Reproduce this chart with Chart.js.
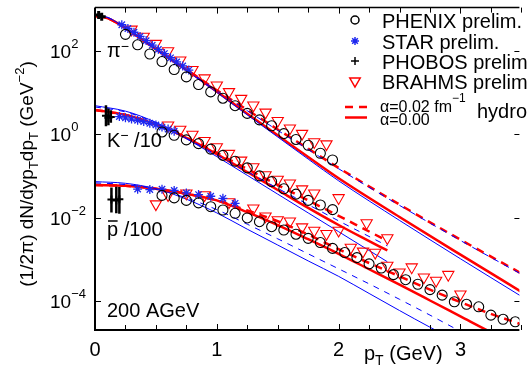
<!DOCTYPE html>
<html>
<head>
<meta charset="utf-8">
<script src="https://cdn.jsdelivr.net/npm/chart.js@4.4.1/dist/chart.umd.min.js"></script>
<style>
  html, body { margin: 0; padding: 0; background: #fff; }
  #wrap { width: 527px; height: 380px; }
</style>
</head>
<body>
<div id="wrap"><canvas id="myChart" width="527" height="380"></canvas></div>
<script>
// ---- pi- ----
const piPhenixPt = [0.25,0.35,0.45,0.55,0.65,0.75,0.85,0.95,1.05,1.15,1.25,1.35,1.45,1.55,1.65,1.75,1.85,1.95];
const piPhenixY  = [251,141,85,56,36,24,15.8,10.5,7.4,4.9,3.2,2.24,1.62,1.05,0.76,0.55,0.355,0.245];
const piStarPt   = [0.22,0.27,0.32,0.37,0.42,0.47,0.52,0.57,0.62,0.67,0.72,0.77];
const piStarY    = [427,347,282,224,178,138,110,87,69,55,44,35];
const piBrahmsPt = [0.3,0.4,0.5,0.6,0.7,0.8,0.9,1.0,1.1,1.2,1.3,1.4,1.5,1.6,1.7,1.8,1.9];
const piBrahmsY  = [331,224,151,100,60.3,35.5,22.4,15.1,10.5,7.24,5.01,3.39,2.14,1.41,1.05,0.661,0.589];
const piPhobosPt = [0.03,0.055];
const piPhobosY  = [730,660];

const piLinePt    = [0,0.1,0.2,0.4,0.6,0.8,1.0,1.25,1.5,1.75,2.0,2.5,3.0,3.5];
const piRedSolid  = [692,617,437,178,69,28.2,10.7,3.16,0.955,0.288,0.089,0.0105,0.00132,0.00017];
const piRedDash   = [692,617,437,178,70.8,28.8,11.5,3.89,1.32,0.457,0.158,0.0209,0.00302,0.000468];
const piBlueSolid = [724,646,447,178,69.2,26.9,10.2,2.95,0.871,0.257,0.0776,0.00871,0.00105,0.000132];
const piBlueDash  = [724,646,447,178,70.8,28.2,11.2,3.72,1.26,0.437,0.151,0.02,0.00288,0.000447];

// ---- K- / 10 ----
const kPhenixPt = [0.55,0.65,0.75,0.85,0.95,1.05,1.15,1.25,1.35,1.45,1.55,1.65,1.75,1.85,1.95];
const kPhenixY  = [1.15,0.955,0.741,0.603,0.447,0.316,0.229,0.158,0.102,0.0741,0.0501,0.0372,0.0263,0.0204,0.0158];
const kStarPt   = [0.2,0.25,0.3,0.35,0.4,0.45,0.5,0.55,0.6,0.65];
const kStarY    = [2.69,2.51,2.34,2.19,2.04,1.86,1.70,1.51,1.35,1.20];
const kBrahmsPt = [0.6,0.7,0.8,0.9,1.0,1.1,1.2,1.3,1.4,1.5,1.6,1.7,1.8,2.0,2.23,2.4];
const kBrahmsY  = [1.66,1.32,1.0,0.708,0.501,0.347,0.24,0.166,0.107,0.0832,0.0676,0.049,0.0389,0.0302,0.00759,0.00331];
const kPhobosPt = [0.09,0.11,0.13];
const kPhobosY  = [2.82,2.51,2.63];
const kPhobosLo = [1.58,1.66,1.91];
const kPhobosHi = [5.01,4.17,3.80];

const kLinePt    = [0,0.25,0.5,0.75,1.0,1.25,1.5,1.75,2.0,2.2,2.4];
const kRedSolid  = [3.89,2.95,1.74,0.832,0.339,0.126,0.0468,0.0174,0.00676,0.00331,0.00166];
const kRedDash   = [3.89,2.95,1.74,0.851,0.363,0.148,0.0617,0.0263,0.0112,0.00562,0.00282];
const kBlueSolid = [4.9,3.63,1.95,0.794,0.295,0.105,0.0372,0.0132,0.00468,0.00204,0.000891];
const kBlueDash  = [4.57,3.47,1.91,0.813,0.324,0.129,0.0513,0.0209,0.00851,0.00427,0.00214];

// ---- pbar / 100 ----
const pPhenixPt = [0.55,0.65,0.75,0.85,0.95,1.05,1.15,1.25,1.35,1.45,1.55,1.65,1.75,1.85,1.95,2.05,2.15,2.25,2.35,2.45,2.55,2.65,2.75,2.85,2.95,3.05,3.15,3.25,3.35,3.45];
const pPhenixY  = [0.0347,0.0302,0.0263,0.0229,0.0186,0.0155,0.0129,0.01,0.00813,0.00617,0.00513,0.00407,0.00324,0.00257,0.00186,0.00148,0.00112,0.000794,0.000631,0.000437,0.000331,0.000257,0.000191,0.000141,0.0000977,0.0000851,0.0000741,0.0000468,0.0000372,0.0000324];
const pStarPt   = [0.35,0.45,0.55,0.65,0.75,0.85,0.95,1.05,1.15];
const pStarY    = [0.049,0.0479,0.049,0.0457,0.0398,0.0363,0.0331,0.0295,0.0224];
const pBrahmsPt = [0.5,0.6,0.75,0.9,1.1,1.3,1.4,1.5,1.6,1.7,1.8,1.9,2.0,2.1,2.2,2.3,2.4,2.5,2.6,2.7,2.8,2.9,3.0];
const pBrahmsY  = [0.0214,0.0355,0.0389,0.0355,0.024,0.017,0.011,0.00891,0.00832,0.00603,0.00501,0.00417,0.00501,0.00195,0.00158,0.00148,0.000724,0.000501,0.000661,0.00038,0.000316,0.000437,0.000148];
const pPhobosPt = [0.135,0.175,0.2];
const pPhobosY  = [0.0275,0.0263,0.0282];
const pPhobosLo = [0.0135,0.0129,0.0126];
const pPhobosHi = [0.0537,0.0562,0.055];

const pLinePt    = [0,0.25,0.5,0.75,1.0,1.25,1.5,1.75,2.0,2.25,2.5,2.75,3.0,3.25,3.5];
const pRedSolid  = [0.0617,0.0589,0.0501,0.038,0.0263,0.0138,0.00676,0.00309,0.00138,0.000589,0.000251,0.000105,0.0000437,0.0000182,0.0000079];
const pRedDash   = [0.0617,0.0589,0.0501,0.038,0.0263,0.0151,0.00832,0.00398,0.00178,0.000832,0.000398,0.000191,0.0000955,0.0000501,0.0000282];
const pBlueSolid = [0.0741,0.0676,0.0501,0.0282,0.0132,0.00537,0.00224,0.000933,0.000398,0.000155,0.0000603,0.000024,0.00001];
const pBlueDash  = [0.0692,0.0631,0.049,0.0302,0.0158,0.00708,0.00316,0.00138,0.000603,0.000263,0.000112,0.0000468,0.0000191,0.0000079];

// axes
const xTickValues = [0,1,2,3];
const xTickLabels = ['0','1','2','3'];
const yTickValues = [1e2,1,1e-2,1e-4];
const yTickExps   = ['2','0','\u22122','\u22124'];

const legendNames = ['PHENIX prelim.','STAR prelim.','PHOBOS prelim.','BRAHMS prelim.'];

const RED = 'rgb(255,0,0)';
const BLUE = 'rgb(0,0,255)';
const STARBLUE = 'rgb(30,40,240)';
const FONT = '"Liberation Sans", Arial, Helvetica, sans-serif';

function pts(xs, ys) { return ys.map((y, i) => ({x: xs[i], y: y})); }

function curve(xs, ys, color, width, dash, order) {
  return { data: pts(xs, ys), showLine: true, pointRadius: 0, borderColor: color,
    borderWidth: width, borderDash: dash, cubicInterpolationMode: 'monotone', order: order };
}
function marks(xs, ys, style, radius, color, bw, rot) {
  return { data: pts(xs, ys), showLine: false, pointStyle: style, pointRadius: radius,
    pointRotation: rot || 0, pointBorderColor: color, pointBackgroundColor: 'rgba(0,0,0,0)',
    pointBorderWidth: bw, order: 0 };
}
function errBars(xs, lo, hi) {
  return xs.map((x, i) => ({ data: [{x: x, y: lo[i]}, {x: x, y: hi[i]}], showLine: true,
    pointRadius: 0, borderColor: '#000', borderWidth: 2.5, order: 0 }));
}

var datasets = [
  curve(piLinePt, piRedSolid, RED, 2.5, [], 2),
  curve(piLinePt, piRedDash, RED, 2.5, [8,6], 2),
  curve(piLinePt, piBlueSolid, BLUE, 1, [], 1),
  curve(piLinePt, piBlueDash, BLUE, 1, [6,6], 1),
  curve(kLinePt, kRedSolid, RED, 2.5, [], 2),
  curve(kLinePt, kRedDash, RED, 2.5, [8,6], 2),
  curve(kLinePt, kBlueSolid, BLUE, 1, [], 1),
  curve(kLinePt, kBlueDash, BLUE, 1, [6,6], 1),
  curve(pLinePt, pRedSolid, RED, 2.5, [], 2),
  curve(pLinePt, pRedDash, RED, 2.5, [8,6], 2),
  curve(pLinePt, pBlueSolid, BLUE, 1, [], 1),
  curve(pLinePt, pBlueDash, BLUE, 1, [6,6], 1),

  marks(piPhenixPt, piPhenixY, 'circle', 5, '#000', 1.1),
  marks(kPhenixPt, kPhenixY, 'circle', 5, '#000', 1.1),
  marks(pPhenixPt, pPhenixY, 'circle', 5, '#000', 1.1),
  marks(piStarPt, piStarY, 'star', 4.5, STARBLUE, 1.3),
  marks(kStarPt, kStarY, 'star', 4.5, STARBLUE, 1.3),
  marks(pStarPt, pStarY, 'star', 4.5, STARBLUE, 1.3),
  marks(piBrahmsPt, piBrahmsY, 'triangle', 6.5, RED, 1.1, 180),
  marks(kBrahmsPt, kBrahmsY, 'triangle', 6.5, RED, 1.1, 180),
  marks(pBrahmsPt, pBrahmsY, 'triangle', 6.5, RED, 1.1, 180),
  marks(piPhobosPt, piPhobosY, 'cross', 4, '#000', 3),
  marks(kPhobosPt, kPhobosY, 'cross', 4, '#000', 2),
  marks(pPhobosPt, pPhobosY, 'cross', 4, '#000', 2)
].concat(errBars(kPhobosPt, kPhobosLo, kPhobosHi), errBars(pPhobosPt, pPhobosLo, pPhobosHi));

function font(px) { return px + 'px ' + FONT; }
function richWidth(ctx, parts) {
  var w = 0;
  parts.forEach(p => { ctx.font = font(p.s); w += ctx.measureText(p.t).width; });
  return w;
}
function drawRich(ctx, x, y, parts) {
  var cx = x;
  parts.forEach(p => {
    ctx.font = font(p.s);
    ctx.fillText(p.t, cx, y + (p.dy || 0));
    cx += ctx.measureText(p.t).width;
  });
  return cx;
}

const decorPlugin = {
  id: 'decor',
  afterDraw(chart) {
    const ctx = chart.ctx, a = chart.chartArea;
    const xs = chart.scales.x, ys = chart.scales.y;
    ctx.save();
    ctx.fillStyle = '#000';
    ctx.strokeStyle = '#000';
    ctx.textBaseline = 'alphabetic';
    ctx.setLineDash([]);

    // frame
    ctx.lineWidth = 2;
    ctx.beginPath();
    ctx.moveTo(a.left, a.top); ctx.lineTo(a.left, a.bottom + 1);
    ctx.moveTo(a.left - 1, a.bottom); ctx.lineTo(a.right, a.bottom);
    ctx.stroke();
    ctx.lineWidth = 1.5;
    ctx.beginPath();
    ctx.moveTo(a.left, a.top); ctx.lineTo(a.right, a.top);
    ctx.stroke();

    // x ticks
    ctx.lineWidth = 1;
    ctx.beginPath();
    for (var v = 0; v <= 3.5; v += 0.25) {
      var px = Math.round(xs.getPixelForValue(v)) + 0.5;
      var len = (Math.abs(v - Math.round(v)) < 1e-6) ? 6 : 5;
      ctx.moveTo(px, a.bottom); ctx.lineTo(px, a.bottom - len);
      ctx.moveTo(px, a.top); ctx.lineTo(px, a.top + len);
    }
    // y ticks
    yTickValues.forEach(v => {
      var py = Math.round(ys.getPixelForValue(v)) + 0.5;
      ctx.moveTo(a.left, py); ctx.lineTo(a.left + 6, py);
      ctx.moveTo(a.right, py); ctx.lineTo(a.right - 5, py);
    });
    ctx.stroke();

    // x tick labels
    ctx.font = font(20);
    ctx.textAlign = 'center';
    xTickValues.forEach((v, i) => {
      ctx.fillText(xTickLabels[i], xs.getPixelForValue(v), a.bottom + 26);
    });
    ctx.textAlign = 'left';

    // y tick labels
    yTickValues.forEach((v, i) => {
      var py = ys.getPixelForValue(v);
      drawRich(ctx, 50, py + 7, [{t: '10', s: 19}, {t: yTickExps[i], s: 13, dy: -10}]);
    });

    // axis titles
    drawRich(ctx, 364, 360, [{t: 'p', s: 20}, {t: 'T', s: 14, dy: 5}, {t: ' (GeV)', s: 20}]);
    ctx.save();
    ctx.translate(33, 174);
    ctx.rotate(-Math.PI / 2);
    var yParts = [{t: '(1/2\u03c0) dN/dyp', s: 19}, {t: 'T', s: 13, dy: 5}, {t: 'dp', s: 19},
      {t: 'T', s: 13, dy: 5}, {t: ' (GeV', s: 19}, {t: '\u22122', s: 13, dy: -9}, {t: ')', s: 19}];
    drawRich(ctx, -richWidth(ctx, yParts) / 2, 0, yParts);
    ctx.restore();

    // species labels
    drawRich(ctx, 107, 57, [{t: '\u03c0', s: 20}, {t: '\u2212', s: 14, dy: -6}]);
    drawRich(ctx, 107, 147, [{t: 'K', s: 20}, {t: '\u2212', s: 14, dy: -7}, {t: ' /10', s: 20}]);
    var endP = drawRich(ctx, 107, 236, [{t: 'p', s: 20}]);
    ctx.lineWidth = 1.5;
    ctx.beginPath(); ctx.moveTo(108, 221); ctx.lineTo(endP - 0.5, 221); ctx.stroke();
    drawRich(ctx, endP, 236, [{t: ' /100', s: 20}]);
    drawRich(ctx, 107, 317, [{t: '200 AGeV', s: 20}]);

    // legend
    const H = Chart.helpers;
    const lx = 355;
    const rowsY = [20, 41, 61, 81];
    const styles = [
      {pointStyle: 'circle', radius: 4, borderWidth: 1, c: '#000'},
      {pointStyle: 'star', radius: 4, borderWidth: 1.3, c: STARBLUE},
      {pointStyle: 'cross', radius: 4, borderWidth: 1, c: '#000'},
      {pointStyle: 'triangle', radius: 6, borderWidth: 1.1, c: RED, rotation: 180}
    ];
    styles.forEach((st, i) => {
      ctx.save();
      ctx.strokeStyle = st.c; ctx.fillStyle = 'rgba(0,0,0,0)';
      H.drawPoint(ctx, {pointStyle: st.pointStyle, radius: st.radius, rotation: st.rotation || 0,
        borderWidth: st.borderWidth}, lx, rowsY[i]);
      ctx.restore();
      ctx.fillStyle = '#000';
      drawRich(ctx, 382, rowsY[i] + 8, [{t: legendNames[i], s: 20}]);
    });
    ctx.strokeStyle = RED;
    ctx.lineWidth = 2.5;
    ctx.setLineDash([8, 6]);
    ctx.beginPath(); ctx.moveTo(345, 107); ctx.lineTo(367, 107); ctx.stroke();
    ctx.setLineDash([]);
    ctx.beginPath(); ctx.moveTo(345, 117.5); ctx.lineTo(367, 117.5); ctx.stroke();
    ctx.fillStyle = '#000';
    drawRich(ctx, 380, 112, [{t: '\u03b1=0.02 fm', s: 16}, {t: '\u22121', s: 12, dy: -10}]);
    drawRich(ctx, 380, 125, [{t: '\u03b1=0.00', s: 16}]);
    drawRich(ctx, 477, 118, [{t: 'hydro', s: 20}]);

    ctx.restore();
  }
};

var canvas = document.getElementById('myChart').getContext('2d');
var myChart = new Chart(canvas, {
  type: 'scatter',
  data: { datasets: datasets },
  options: {
    responsive: false,
    animation: false,
    devicePixelRatio: 1,
    layout: { padding: { left: 95, top: 4, right: 0, bottom: 50 } },
    plugins: { legend: { display: false }, tooltip: { enabled: false } },
    scales: {
      x: { type: 'linear', min: 0, max: 3.484, display: false },
      y: { type: 'logarithmic', min: 2.06e-5, max: 1.1e3, display: false }
    }
  },
  plugins: [decorPlugin]
});
</script>
</body>
</html>
